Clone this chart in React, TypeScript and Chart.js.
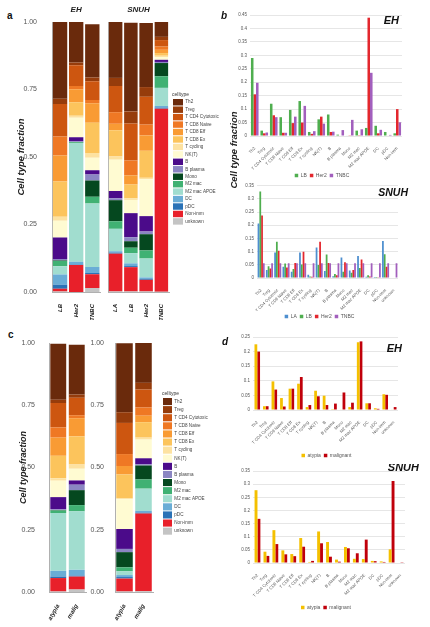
import React, { useEffect, useRef } from "react";
import { Chart, registerables } from "chart.js";

Chart.register(...registerables);
const FONT = "'Liberation Sans', Arial, sans-serif";
Chart.defaults.font.family = FONT;

// ---------- categories & labels ----------
const cellTypes = [
  "Th2", "Treg", "T CD4 Cytotoxic", "T CD8 Naive", "T CD8 Eff", "T CD8 Ex", "T cycling", "NK(T)",
  "B", "B plasma", "Mono", "M2 mac", "M2 mac APOE", "DC", "pDC", "Non-imm", "unknown",
];
const cellColors = [
  "#6a2a0c", "#963c0b", "#cd5610", "#ef7824", "#f99b34", "#fcc45c", "#fde2a1", "#fffbd2",
  "#4b0b8a", "#8b86c3", "#05481f", "#40b173", "#a1ddcf", "#6aadd6", "#2a72b6", "#e8202a", "#c4c4c4",
];
const ehSubtypes = ["LB", "Her2", "TNBC"];
const snuhSubtypes = ["LA", "LB", "Her2", "TNBC"];
const stageTicks = ["atypia", "malig"];
const stageNames = ["atypia", "malignant"];

// ---------- EH subtype fractions (panels a, b) ----------
const ehLB = [0.29, 0.02, 0.12, 0.07, 0.097, 0.13, 0.015, 0.062, 0.08, 0.005, 0.002, 0.02, 0.03, 0.038, 0.015, 0.01, 0.002];
const ehHer2 = [0.155, 0.01, 0.077, 0.012, 0.048, 0.05, 0.008, 0.072, 0.015, 0.002, 0.001, 0.003, 0.44, 0.01, 0.002, 0.1, 0.0];
const ehTNBC = [0.198, 0.013, 0.07, 0.012, 0.072, 0.112, 0.018, 0.046, 0.016, 0.022, 0.06, 0.025, 0.235, 0.023, 0.004, 0.051, 0.015];

// ---------- SNUH subtype fractions (panels a, b) ----------
const snLA = [0.207, 0.03, 0.097, 0.043, 0.024, 0.097, 0.012, 0.116, 0.027, 0.007, 0.078, 0.028, 0.083, 0.005, 0.004, 0.14, 0.002];
const snLB = [0.328, 0.045, 0.137, 0.055, 0.034, 0.051, 0.006, 0.049, 0.089, 0.015, 0.024, 0.02, 0.038, 0.01, 0.004, 0.09, 0.002];
const snHer2 = [0.237, 0.036, 0.103, 0.04, 0.057, 0.1, 0.005, 0.137, 0.057, 0.01, 0.06, 0.03, 0.07, 0.006, 0.003, 0.043, 0.002];
const snTNBC = [0.055, 0.012, 0.024, 0.012, 0.012, 0.01, 0.005, 0.01, 0.008, 0.004, 0.049, 0.043, 0.067, 0.006, 0.004, 0.678, 0.001];
// TNBC series as plotted in panel b (SNUH)
const snTNBCbars = [0.056, 0.056, 0.056, 0.056, 0.056, 0.056, 0.056, 0.056, 0.056, 0.056, 0.056, 0.056, 0.056, 0.056, 0.056, 0.056, 0.056];

// ---------- atypia / malignant fractions (panels c, d) ----------
const ehAtypia = [0.225, 0.013, 0.098, 0.041, 0.073, 0.09, 0.01, 0.066, 0.049, 0.003, 0.002, 0.01, 0.232, 0.023, 0.006, 0.054, 0.002];
const ehMalig = [0.2, 0.013, 0.07, 0.012, 0.073, 0.113, 0.017, 0.047, 0.017, 0.022, 0.06, 0.025, 0.235, 0.023, 0.004, 0.052, 0.01];
const snAtypia = [0.277, 0.043, 0.125, 0.048, 0.034, 0.095, 0.004, 0.12, 0.08, 0.013, 0.061, 0.016, 0.015, 0.008, 0.006, 0.052, 0.002];
const snMalig = [0.168, 0.027, 0.072, 0.033, 0.026, 0.062, 0.008, 0.075, 0.024, 0.005, 0.056, 0.037, 0.089, 0.007, 0.004, 0.312, 0.003];

const subtypeColors = { LA: "#4e8fcf", LB: "#4fae4f", Her2: "#e3272e", TNBC: "#a25fbd" };
const stageColors = ["#f4c000", "#c0000b"];

// ---------- plugins ----------
const facetTitle = {
  id: "facetTitle",
  afterDraw(chart: any, _a: any, opts: any) {
    if (!opts || !opts.text) return;
    const { ctx, chartArea } = chart;
    ctx.save();
    ctx.font = opts.font;
    ctx.fillStyle = opts.color || "#222";
    ctx.textBaseline = "middle";
    let x;
    if (opts.align === "right") {
      ctx.textAlign = "right";
      x = chartArea.right + (opts.dx || 0);
    } else {
      ctx.textAlign = "center";
      x = (chartArea.left + chartArea.right) / 2 + (opts.dx || 0);
    }
    ctx.fillText(opts.text, x, chartArea.top + (opts.dy || 0));
    ctx.restore();
  },
};

const legendFix = {
  id: "legendFix",
  beforeLayout(chart: any) {
    const lg = chart.legend;
    if (!lg || lg.__fixed) return;
    const orig = lg.fit.bind(lg);
    lg.fit = function () {
      orig();
      const o = (chart.options.plugins && chart.options.plugins.legendFix) || {};
      if (o.width) lg.width = o.width;
      if (o.height) lg.height = o.height;
    };
    lg.__fixed = true;
  },
  afterLayout(chart: any, _a: any, opts: any) {
    const lg = chart.legend;
    if (!lg || !opts) return;
    if (opts.dx) { lg.left += opts.dx; lg.right += opts.dx; }
    if (opts.dy) { lg.top += opts.dy; lg.bottom += opts.dy; }
  },
};

const numFmt = (v: any) => String(Math.round(Number(v) * 100) / 100);

// ---------- stacked (panels a, c) ----------
function stackedConfig(o: any): any {
  const datasets = cellTypes
    .map((name, i) => ({
      label: name,
      data: o.columns.map((col: number[]) => col[i]),
      backgroundColor: cellColors[i],
      borderWidth: 0,
      barPercentage: o.barPct,
      categoryPercentage: 1,
    }))
    .reverse();
  return {
    type: "bar",
    data: { labels: o.categories, datasets },
    options: {
      responsive: false,
      animation: false,
      devicePixelRatio: 1,
      layout: { padding: o.pad },
      plugins: {
        legend: o.legend
          ? {
              display: true,
              position: "right",
              align: "start",
              reverse: true,
              labels: {
                boxWidth: o.legend.boxW,
                boxHeight: o.legend.boxH,
                padding: 1,
                color: "#444",
                font: { size: 4.6 },
              },
              title: {
                display: true,
                text: "celltype",
                position: "start",
                color: "#333",
                font: { size: 5 },
                padding: { top: o.legend.titlePadTop, bottom: 0 },
              },
            }
          : { display: false },
        tooltip: { enabled: false },
        facetTitle: o.facet
          ? { text: o.facet, dy: -12, align: "center", font: `italic bold 8px ${FONT}`, color: "#222" }
          : {},
        legendFix: o.legend ? { width: o.legend.width, dx: o.legend.dx } : {},
      },
      scales: {
        x: {
          stacked: true,
          grid: { display: false },
          border: { display: true, color: "#b0b0b0", width: 1 },
          ticks: {
            autoSkip: false,
            minRotation: o.xRot,
            maxRotation: o.xRot,
            padding: o.xPad,
            color: "#222",
            font: { size: 6, style: "italic", weight: "bold" },
          },
          afterFit: (s: any) => { s.height = o.xH; },
        },
        y: {
          stacked: true,
          min: 0,
          max: 1,
          grid: { display: false },
          border: { display: true, color: "#b0b0b0", width: 1 },
          ticks: {
            display: o.showTicks,
            stepSize: 0.25,
            padding: o.tickPad,
            color: "#555",
            font: { size: 7 },
            callback: (v: any) => Number(v).toFixed(2),
          },
          title: o.yTitle
            ? {
                display: true,
                text: "Cell type fraction",
                color: "#222",
                font: { size: o.yTitle.size, style: "italic", weight: "bold" },
                padding: { top: o.yTitle.pad, bottom: 0 },
              }
            : { display: false },
          afterFit: (s: any) => { s.width = o.yW; },
        },
      },
    },
    plugins: [facetTitle, legendFix],
  };
}

// ---------- grouped (panels b, d) ----------
function groupedConfig(o: any): any {
  return {
    type: "bar",
    data: {
      labels: o.categories,
      datasets: o.series.map((s: any) => ({
        label: s.label,
        data: s.data,
        backgroundColor: s.color,
        borderWidth: 0,
        barPercentage: 1,
        categoryPercentage: o.catPct,
      })),
    },
    options: {
      responsive: false,
      animation: false,
      devicePixelRatio: 1,
      layout: { padding: o.pad },
      plugins: {
        legend: {
          display: true,
          position: "bottom",
          align: "center",
          labels: { boxWidth: 3.5, boxHeight: 3.5, padding: 3, color: "#555", font: { size: 5 } },
        },
        tooltip: { enabled: false },
        facetTitle: {
          text: o.corner.text,
          align: "right",
          dx: o.corner.dx,
          dy: o.corner.dy,
          font: `italic bold ${o.corner.size}px ${FONT}`,
          color: "#111",
        },
        legendFix: { height: 11, dx: o.legendDx },
      },
      scales: {
        x: {
          grid: { display: false },
          border: { display: false },
          ticks: {
            autoSkip: false,
            minRotation: 45,
            maxRotation: 45,
            padding: 2,
            color: "#555",
            font: { size: 4.2 },
          },
          afterFit: (s: any) => { s.height = o.xH; },
        },
        y: {
          min: 0,
          max: o.yMax,
          grid: { display: true, color: "#e6e6e6", lineWidth: 1, drawTicks: false },
          border: { display: false },
          ticks: { stepSize: 0.05, padding: 3, color: "#555", font: { size: 4.5 }, callback: numFmt },
          afterFit: (s: any) => { s.width = o.yW; },
        },
      },
    },
    plugins: [facetTitle, legendFix],
  };
}

function ChartCanvas({ x, y, w, h, make }: any) {
  const ref = useRef<HTMLCanvasElement | null>(null);
  useEffect(() => {
    if (!ref.current) return;
    const c = new Chart(ref.current, make());
    return () => c.destroy();
  }, []);
  return (
    <canvas
      ref={ref}
      width={w}
      height={h}
      style={{ position: "absolute", left: x, top: y, width: w, height: h }}
    />
  );
}

const letter = (t: string, left: number, top: number, italic: boolean) => (
  <div
    style={{
      position: "absolute",
      left,
      top,
      fontSize: 10,
      lineHeight: "10px",
      fontWeight: "bold",
      fontStyle: italic ? "italic" : "normal",
      color: "#111",
    }}
  >
    {t}
  </div>
);

export default function App() {
  const ehCols = [ehLB, ehHer2, ehTNBC];
  const snCols = [snLA, snLB, snHer2, snTNBC];
  return (
    <div
      style={{
        position: "absolute",
        left: 0,
        top: 0,
        width: 430,
        height: 627,
        background: "#fff",
        overflow: "hidden",
        fontFamily: FONT,
      }}
    >
      {/* panel a */}
      <ChartCanvas
        x={14} y={2} w={90} h={318}
        make={() =>
          stackedConfig({
            categories: ehSubtypes, columns: ehCols,
            pad: { top: 20, right: 3, bottom: 0, left: 0 },
            yW: 38, xH: 28, showTicks: true, tickPad: 7,
            yTitle: { size: 9.5, pad: 2 },
            xRot: 90, xPad: 4, barPct: 0.89, facet: "EH",
          })
        }
      />
      <ChartCanvas
        x={104} y={2} w={126} h={318}
        make={() =>
          stackedConfig({
            categories: snuhSubtypes, columns: snCols,
            pad: { top: 20, right: 0, bottom: 0, left: 0 },
            yW: 4, xH: 28, showTicks: false, tickPad: 0,
            xRot: 90, xPad: 4, barPct: 0.885, facet: "SNUH",
            legend: { width: 61, dx: 3, boxW: 10, boxH: 6.45, titlePadTop: 70 },
          })
        }
      />

      {/* panel b */}
      <ChartCanvas
        x={236} y={8} w={194} h={173}
        make={() =>
          groupedConfig({
            categories: cellTypes.slice(0, 16),
            series: [
              { label: "LB", data: ehLB.slice(0, 16), color: subtypeColors.LB },
              { label: "Her2", data: ehHer2.slice(0, 16), color: subtypeColors.Her2 },
              { label: "TNBC", data: ehTNBC.slice(0, 16), color: subtypeColors.TNBC },
            ],
            yMax: 0.45, yW: 14, xH: 34,
            pad: { top: 7, right: 28, bottom: 0, left: 0 },
            catPct: 0.8,
            corner: { text: "EH", dx: -3, dy: 6, size: 11 },
            legendDx: 3,
          })
        }
      />
      <ChartCanvas
        x={243} y={180} w={187} h={142}
        make={() =>
          groupedConfig({
            categories: cellTypes,
            series: [
              { label: "LA", data: snLA, color: subtypeColors.LA },
              { label: "LB", data: snLB, color: subtypeColors.LB },
              { label: "Her2", data: snHer2, color: subtypeColors.Her2 },
              { label: "TNBC", data: snTNBCbars, color: subtypeColors.TNBC },
            ],
            yMax: 0.35, yW: 14, xH: 33,
            pad: { top: 5, right: 32, bottom: 0, left: 0 },
            catPct: 0.85,
            corner: { text: "SNUH", dx: 10, dy: 7, size: 10.5 },
            legendDx: -1,
          })
        }
      />

      {/* panel c */}
      <ChartCanvas
        x={14} y={330} w={74} h={297}
        make={() =>
          stackedConfig({
            categories: stageTicks, columns: [ehAtypia, ehMalig],
            pad: { top: 13, right: 2, bottom: 0, left: 0 },
            yW: 35, xH: 35, showTicks: true, tickPad: 6,
            yTitle: { size: 9, pad: 4.5 },
            xRot: 60, xPad: 3, barPct: 0.86,
          })
        }
      />
      <ChartCanvas
        x={88} y={330} w={142} h={297}
        make={() =>
          stackedConfig({
            categories: stageTicks, columns: [snAtypia, snMalig],
            pad: { top: 13, right: 0, bottom: 0, left: 0 },
            yW: 27, xH: 35, showTicks: true, tickPad: 3,
            xRot: 60, xPad: 3, barPct: 0.87,
            legend: { width: 77, dx: 9, boxW: 9, boxH: 7.1, titlePadTop: 48 },
          })
        }
      />

      {/* panel d */}
      <ChartCanvas
        x={239} y={330} w={191} h={131}
        make={() =>
          groupedConfig({
            categories: cellTypes,
            series: [
              { label: stageNames[0], data: ehAtypia, color: stageColors[0] },
              { label: stageNames[1], data: ehMalig, color: stageColors[1] },
            ],
            yMax: 0.25, yW: 14, xH: 40,
            pad: { top: 7, right: 32, bottom: 0, left: 0 },
            catPct: 0.65,
            corner: { text: "EH", dx: 4, dy: 12, size: 11 },
            legendDx: 8,
          })
        }
      />
      <ChartCanvas
        x={239} y={464} w={191} h={149}
        make={() =>
          groupedConfig({
            categories: cellTypes,
            series: [
              { label: stageNames[0], data: snAtypia, color: stageColors[0] },
              { label: stageNames[1], data: snMalig, color: stageColors[1] },
            ],
            yMax: 0.35, yW: 14, xH: 39,
            pad: { top: 7, right: 25, bottom: 0, left: 0 },
            catPct: 0.65,
            corner: { text: "SNUH", dx: 14, dy: -3, size: 11 },
            legendDx: 4,
          })
        }
      />

      {/* panel letters & shared axis title */}
      {letter("a", 7, 11, false)}
      {letter("b", 221, 11, true)}
      {letter("c", 8, 330, false)}
      {letter("d", 222, 337, true)}
      <div
        style={{
          position: "absolute",
          left: 233,
          top: 150,
          transform: "translate(-50%, -50%) rotate(-90deg)",
          whiteSpace: "nowrap",
          fontSize: 9.5,
          fontWeight: "bold",
          fontStyle: "italic",
          color: "#222",
          lineHeight: "11px",
        }}
      >
        Cell type fraction
      </div>
    </div>
  );
}
